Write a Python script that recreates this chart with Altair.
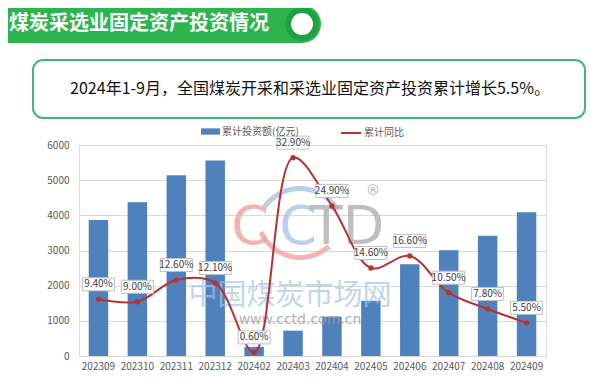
import altair as alt
import pandas as pd

months = ["202309", "202310", "202311", "202312", "202402", "202403",
          "202404", "202405", "202406", "202407", "202408", "202409"]
investment = [3870, 4370, 5140, 5560, 260, 720, 1120, 1570, 2610, 3010, 3420, 4090]
yoy = [9.4, 9.0, 12.6, 12.1, 0.6, 32.9, 24.9, 14.6, 16.6, 10.5, 7.8, 5.5]

title_text = "煤炭采选业固定资产投资情况"
summary_text = "2024年1-9月，全国煤炭开采和采选业固定资产投资累计增长5.5%。"
bar_name = "累计投资额(亿元)"
line_name = "累计同比"

FONT = "Noto Sans CJK SC"
BLUE = "#4f81bd"
RED = "#b83232"

df = pd.DataFrame({"month": months, "inv": investment, "yoy": yoy})
df["label"] = [f"{v:.2f}%" for v in yoy]
df["s1"] = bar_name
df["s2"] = line_name

one = pd.DataFrame({"k": [0]})

xenc = alt.X("month:O", sort=months, title=None,
             scale=alt.Scale(paddingInner=0.5, paddingOuter=0.25),
             axis=alt.Axis(labelAngle=0, labelFontSize=10, labelColor="#595959",
                           labelFont=FONT, ticks=False, domainColor="#d9d9d9",
                           labelPadding=5, grid=False))

bars = alt.Chart(df).mark_bar(color=BLUE).encode(
    x=xenc,
    y=alt.Y("inv:Q", title=None,
            scale=alt.Scale(domain=[0, 6000], nice=False),
            axis=alt.Axis(values=[0, 1000, 2000, 3000, 4000, 5000, 6000], format="d",
                          labelFontSize=10, labelColor="#595959", labelFont=FONT,
                          domain=False, ticks=False, gridColor="#d9d9d9",
                          labelPadding=10)),
    color=alt.Color("s1:N", scale=alt.Scale(range=[BLUE]),
                    legend=alt.Legend(orient="none", legendX=122, legendY=-23,
                                      title=None, symbolType="M-1,-0.33H1V0.33H-1Z",
                                      symbolSize=361, symbolStrokeWidth=0,
                                      labelFontSize=10, labelColor="#595959",
                                      labelFont=FONT, labelOffset=2)),
)

yl = alt.Y("yoy:Q", scale=alt.Scale(domain=[0, 35], nice=False), axis=None)

line = alt.Chart(df).mark_line(interpolate="catmull-rom", strokeWidth=2).encode(
    x=alt.X("month:O", sort=months),
    y=yl,
    stroke=alt.Stroke("s2:N", scale=alt.Scale(range=[RED]),
                      legend=alt.Legend(orient="none", legendX=261, legendY=-23,
                                        title=None, symbolType="stroke",
                                        symbolSize=400, symbolStrokeWidth=2,
                                        labelFontSize=10, labelColor="#595959",
                                        labelFont=FONT, labelOffset=2)),
)
pts = alt.Chart(df).mark_circle(color=RED, size=28, opacity=1).encode(
    x=alt.X("month:O", sort=months), y=yl)
boxes = alt.Chart(df).mark_point(
    shape="M-1.6,-0.65L1.6,-0.65L1.6,0.65L-1.6,0.65Z", size=400, filled=False,
    fill="white", fillOpacity=1, stroke="#bfbfbf", strokeWidth=1, opacity=1,
    yOffset=-15).encode(x=alt.X("month:O", sort=months), y=yl)
texts = alt.Chart(df).mark_text(fontSize=10, font=FONT, color="#404040",
                                yOffset=-15, baseline="middle").encode(
    x=alt.X("month:O", sort=months), y=yl, text="label:N")

line_layer = alt.layer(line, pts, boxes, texts)

# decorations (plot-area coordinates)
banner = alt.Chart(one).mark_rect(color="#2db44e", cornerRadius=19).encode(
    x=alt.value(-100), x2=alt.value(242), y=alt.value(-140), y2=alt.value(-102))
cap_outer = alt.Chart(one).mark_circle(color="#1fa240", size=1134, opacity=1).encode(
    x=alt.value(223), y=alt.value(-121))
cap_inner = alt.Chart(one).mark_circle(color="white", size=480, opacity=1).encode(
    x=alt.value(223), y=alt.value(-121))
banner_txt = alt.Chart(one).mark_text(text=title_text, fontSize=20, fontWeight="bold",
                                      font=FONT, color="white", align="left",
                                      baseline="middle").encode(
    x=alt.value(-70), y=alt.value(-121))
box = alt.Chart(one).mark_rect(fill="white", stroke="#3dbb6e", strokeWidth=2,
                               cornerRadius=10).encode(
    x=alt.value(-46), x2=alt.value(506), y=alt.value(-85), y2=alt.value(-27))
box_txt = alt.Chart(one).mark_text(text=summary_text, fontSize=16, font=FONT,
                                   color="#111111", align="center",
                                   baseline="middle").encode(
    x=alt.value(231), y=alt.value(-56))

arc_blue = alt.Chart(one).mark_arc(theta=5.3, theta2=7.3, radius=46, radius2=41,
                                   color="#a9c4e4", opacity=0.8).encode(
    x=alt.value(221), y=alt.value(87))
arc_red = alt.Chart(one).mark_arc(theta=2.4, theta2=4.3, radius=45, radius2=40,
                                  color="#f2a0a0", opacity=0.8).encode(
    x=alt.value(221), y=alt.value(70))
wm1 = alt.Chart(one).mark_text(text="C", fontSize=54, font="DejaVu Sans",
                               color="#f2a0a0", opacity=0.8).encode(
    x=alt.value(171), y=alt.value(83))
wm2 = alt.Chart(one).mark_text(text="C", fontSize=54, font="DejaVu Sans",
                               color="#a9c4e4", opacity=0.8).encode(
    x=alt.value(219), y=alt.value(83))
wm3 = alt.Chart(one).mark_text(text="TD", fontSize=54, font="DejaVu Sans",
                               color="#b0b0b0", opacity=0.8).encode(
    x=alt.value(268), y=alt.value(83))
wm4 = alt.Chart(one).mark_text(text="中国煤炭市场网", fontSize=29, font=FONT,
                               color="#a9c4e4", opacity=0.7).encode(
    x=alt.value(211), y=alt.value(151))
wm5 = alt.Chart(one).mark_text(text="www.cctd.com.cn", fontSize=14, font="DejaVu Sans",
                               color="#a0a0a0", opacity=0.8).encode(
    x=alt.value(221), y=alt.value(175))
wm6 = alt.Chart(one).mark_text(text="®", fontSize=14, font="DejaVu Sans",
                               color="#b0b0b0").encode(
    x=alt.value(294), y=alt.value(46))

chart = alt.layer(
    banner, cap_outer, cap_inner, banner_txt, box, box_txt,
    bars, arc_blue, arc_red, wm1, wm2, wm3, wm4, wm5, wm6, line_layer
).resolve_scale(y="independent", color="independent", stroke="independent").properties(
    width=467, height=211,
    autosize=alt.AutoSizeParams(type="none"),
    padding={"left": 71, "top": 137, "right": 46, "bottom": 15},
).configure_view(stroke=None).configure(background="white")

chart.save("out.html", embed_options={"renderer": "svg", "actions": False})
